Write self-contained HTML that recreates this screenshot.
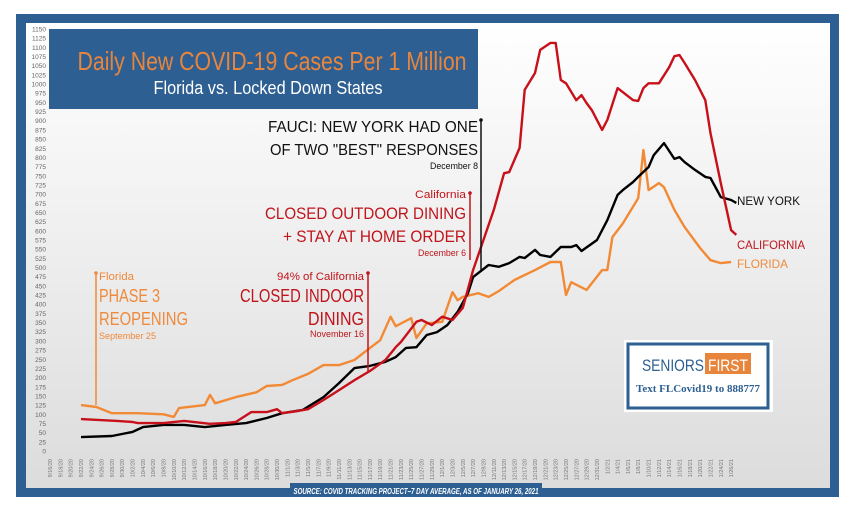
<!DOCTYPE html>
<html><head><meta charset="utf-8"><style>
html,body{margin:0;padding:0;background:#fff;width:856px;height:512px;overflow:hidden}
svg{display:block;font-family:"Liberation Sans",sans-serif}
</style></head><body>
<svg id="chart" width="856" height="512" viewBox="0 0 856 512">
<defs><linearGradient id="bg" x1="0" y1="0" x2="0" y2="1"><stop offset="0" stop-color="#ffffff"/><stop offset="1" stop-color="#dcdcdc"/></linearGradient></defs>
<rect x="16" y="14" width="823" height="483" fill="#2e5f92"/>
<rect x="26" y="23" width="804" height="465" fill="url(#bg)"/>
<g id="yticks"></g>
<g id="xticks"></g>
<g id="series"></g>
<rect x="49" y="29" width="429" height="80" fill="#2e5f92"/>
<text x="272" y="70" text-anchor="middle" fill="#e8853d" font-size="26" textLength="389" lengthAdjust="spacingAndGlyphs">Daily New COVID-19 Cases Per 1 Million</text>
<text x="268" y="94" text-anchor="middle" fill="#fff" font-size="18" textLength="229" lengthAdjust="spacingAndGlyphs">Florida vs. Locked Down States</text>

<g fill="#ef8a3c">
<line x1="96" y1="273" x2="96" y2="405" stroke="#ef8a3c" stroke-width="1.5"/><circle cx="96" cy="273" r="1.8"/>
<text x="99" y="280" font-size="11" textLength="35" lengthAdjust="spacingAndGlyphs">Florida</text>
<text x="99" y="302" font-size="18" textLength="61" lengthAdjust="spacingAndGlyphs">PHASE 3</text>
<text x="99" y="325" font-size="18" textLength="89" lengthAdjust="spacingAndGlyphs">REOPENING</text>
<text x="99" y="339" font-size="9" textLength="57" lengthAdjust="spacingAndGlyphs">September 25</text>
</g>
<g fill="#c0141b" text-anchor="end">
<line x1="368" y1="273" x2="368" y2="372" stroke="#c0141b" stroke-width="1.5"/><circle cx="368" cy="273" r="1.8"/>
<text x="364" y="280" font-size="11" textLength="87" lengthAdjust="spacingAndGlyphs">94% of California</text>
<text x="364" y="302" font-size="18" textLength="124" lengthAdjust="spacingAndGlyphs">CLOSED INDOOR</text>
<text x="364" y="325" font-size="18" textLength="56" lengthAdjust="spacingAndGlyphs">DINING</text>
<text x="364" y="337" font-size="9" textLength="54" lengthAdjust="spacingAndGlyphs">November 16</text>
</g>
<g fill="#c0141b" text-anchor="end">
<line x1="470" y1="193" x2="470" y2="260" stroke="#c0141b" stroke-width="1.5"/><circle cx="470" cy="193" r="1.8"/>
<text x="466" y="198" font-size="11" textLength="51" lengthAdjust="spacingAndGlyphs">California</text>
<text x="466" y="219" font-size="17" textLength="201" lengthAdjust="spacingAndGlyphs">CLOSED OUTDOOR DINING</text>
<text x="466" y="242" font-size="17" textLength="183" lengthAdjust="spacingAndGlyphs">+ STAY AT HOME ORDER</text>
<text x="466" y="256" font-size="9" textLength="48" lengthAdjust="spacingAndGlyphs">December 6</text>
</g>
<g fill="#111" text-anchor="end">
<line x1="481" y1="120" x2="481" y2="270" stroke="#111" stroke-width="1.5"/><circle cx="481" cy="120" r="1.8"/>
<text x="478" y="132" font-size="16" textLength="210" lengthAdjust="spacingAndGlyphs">FAUCI: NEW YORK HAD ONE</text>
<text x="478" y="155" font-size="16" textLength="208" lengthAdjust="spacingAndGlyphs">OF TWO "BEST" RESPONSES</text>
<text x="478" y="169" font-size="9" textLength="48" lengthAdjust="spacingAndGlyphs">December 8</text>
</g>
<text x="737" y="205" font-size="12" fill="#111" textLength="63" lengthAdjust="spacingAndGlyphs">NEW YORK</text>
<text x="737" y="249" font-size="12" fill="#c0141b" textLength="68" lengthAdjust="spacingAndGlyphs">CALIFORNIA</text>
<text x="737" y="268" font-size="12" fill="#ef8a3c" textLength="51" lengthAdjust="spacingAndGlyphs">FLORIDA</text>

<g>
<rect x="624" y="340" width="149" height="72" fill="#fff"/>
<rect x="628" y="344" width="140" height="64" fill="none" stroke="#2e5f92" stroke-width="3"/>
<text x="642" y="371" font-size="17" fill="#2e5f92" textLength="62" lengthAdjust="spacingAndGlyphs">SENIORS</text>
<rect x="705" y="353" width="46" height="21" fill="#e8853d"/>
<text x="708" y="371" font-size="17" fill="#fff" textLength="40" lengthAdjust="spacingAndGlyphs">FIRST</text>
<text x="698" y="392" font-size="11" font-weight="bold" fill="#2e5f92" text-anchor="middle" font-family="Liberation Serif, serif">Text FLCovid19 to 888777</text>
</g>
<rect x="290" y="483" width="252" height="14" fill="#2e5f92"/>
<text x="416" y="494" font-size="8" font-style="italic" font-weight="bold" fill="#fff" text-anchor="middle" textLength="245" lengthAdjust="spacingAndGlyphs">SOURCE: COVID TRACKING PROJECT–7 DAY AVERAGE, AS OF JANUARY 26, 2021</text>
</svg>
<script>
// days since 9/16/20 and daily new cases per 1M
const yTicks = [0,25,50,75,100,125,150,175,200,225,250,275,300,325,350,375,400,425,450,475,500,525,550,575,600,625,650,675,700,725,750,775,800,825,850,875,900,925,950,975,1000,1025,1050,1075,1100,1125,1150];
const flDays = [6,9,12,17,22,24,25,30,31,32,36,40,42,45,47,50,53,56,59,61,64,66,67,70,71,73,76,78,79,80,83,85,87,90,94,97,99,100,101,104,105,107,108,109,111,114,115,116,118,119,121,123,126,128,130,132];
const flVals = [125,120,103,103,100,93,117,125,153,130,147,160,177,180,193,210,234,234,248,270,302,366,340,362,308,348,352,433,411,420,430,420,436,466,493,515,515,425,460,439,457,493,493,583,620,689,820,711,730,719,657,610,553,520,512,515];
const caDays = [6,13,16,17,22,26,31,34,36,39,42,44,45,48,50,53,56,59,62,65,67,68,71,72,74,76,78,80,82,86,88,89,91,92,94,95,97,98,99,100,102,103,104,105,107,108,110,113,114,115,116,118,120,121,122,123,125,127,128,130,132,133];
const caVals = [87,82,79,76,76,82,74,76,79,106,106,114,103,109,114,139,166,193,218,248,283,297,352,357,343,366,357,390,493,657,757,760,826,984,1030,1093,1112,1112,1011,1002,956,970,948,929,875,902,989,956,954,989,1002,1002,1046,1076,1079,1057,1011,956,866,730,602,589,561];
const nyDays = [6,12,16,18,22,26,30,34,38,42,45,49,53,56,59,62,65,67,69,71,73,75,77,79,81,82,85,87,89,91,92,94,95,97,99,101,102,103,106,108,110,111,113,114,116,117,119,121,122,123,125,127,128,130,132,133];
const nyVals = [38,41,52,65,71,71,65,71,76,90,103,112,147,185,226,232,243,256,281,283,316,324,343,379,430,474,507,502,512,529,526,548,534,529,556,556,561,545,575,629,698,711,733,747,774,806,839,796,801,787,766,747,744,692,684,676];
const xLabels = [];
(function(){for(let d=0;d<=132;d+=2){const dt=new Date(2020,8,16+d);xLabels.push((dt.getMonth()+1)+'/'+dt.getDate()+'/'+String(dt.getFullYear()).slice(2));}})();

const NS='http://www.w3.org/2000/svg';
const X = d => 50 + d*5.16;
const Y = v => 451 - v*(422/1150);
const yg=document.getElementById('yticks'), xg=document.getElementById('xticks'), sg=document.getElementById('series');
yTicks.forEach(v=>{
  const t=document.createElementNS(NS,'text');
  t.setAttribute('x',46);t.setAttribute('y',Y(v)+2.5);t.setAttribute('text-anchor','end');
  t.setAttribute('font-size','6.5');t.setAttribute('fill','#666');t.textContent=v;
  
  
  yg.appendChild(t);
});
xLabels.forEach((lab,i)=>{
  const x=X(i*2)+2, t=document.createElementNS(NS,'text');
  t.setAttribute('transform','translate('+x+',459) rotate(-90)');
  t.setAttribute('text-anchor','end');t.setAttribute('font-size','5.5');t.setAttribute('fill','#777');t.textContent=lab;
  
  
  xg.appendChild(t);
});
function line(days,vals,color,name){
  const p=document.createElementNS(NS,'polyline');
  p.setAttribute('points',days.map((d,i)=>X(d).toFixed(1)+','+Y(vals[i]).toFixed(1)).join(' '));
  p.setAttribute('fill','none');p.setAttribute('stroke',color);p.setAttribute('stroke-width','2.4');p.setAttribute('stroke-linejoin','round');
  
  
  sg.appendChild(p);
}
line(flDays,flVals,'#f28a35','florida-line');
line(nyDays,nyVals,'#000000','new-york-line');
line(caDays,caVals,'#c8101a','california-line');
</script>
</body></html>
